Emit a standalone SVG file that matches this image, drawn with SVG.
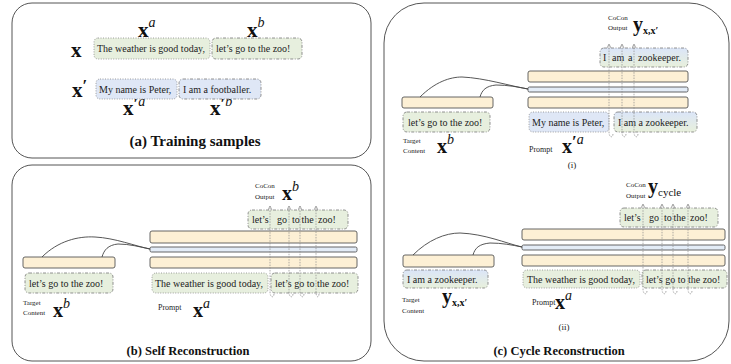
<svg xmlns="http://www.w3.org/2000/svg" width="731" height="364" viewBox="0 0 731 364">
<style>
.panel{fill:#fff;stroke:#555;stroke-width:1}
.t{font-family:"Liberation Serif","Times New Roman",serif;font-size:10px;fill:#222}
.s{font-family:"Liberation Serif","Times New Roman",serif;font-size:7px;fill:#222}
.m{font-family:"Liberation Serif","Times New Roman",serif;font-size:21px;font-weight:bold;fill:#111}
.sup{font-size:14px;font-style:italic;font-weight:normal}
.pr{font-size:17px;font-weight:bold}
.sub{font-size:10px;font-weight:bold}
.subr{font-size:11px;font-weight:normal}
.title{font-family:"Liberation Serif","Times New Roman",serif;font-size:12.5px;font-weight:bold;fill:#111;text-anchor:middle}
.g{fill:#e7efde}
.b{fill:#dfe7f6}
.gr{fill:url(#bg)}
.dot{stroke:#888;stroke-width:0.8;stroke-dasharray:1 1.5}
.dd{stroke:#777;stroke-width:0.8;stroke-dasharray:3 1.5 1 1.5}
.bar{fill:#fdf0d5;stroke:#555;stroke-width:0.9}
.thin{fill:#e3ecf7;stroke:#555;stroke-width:0.9}
.curve{fill:none;stroke:#444;stroke-width:0.9}
.col{fill:none;stroke:#8a8a8a;stroke-width:0.7;stroke-dasharray:1.5 1.2}
</style>
<defs>
<linearGradient id="bg" x1="0" y1="0" x2="0" y2="1">
<stop offset="0" stop-color="#dbe5f8"/>
<stop offset="1" stop-color="#e8f0dc"/>
</linearGradient>
<marker id="ah" markerWidth="5" markerHeight="5" refX="4" refY="2" orient="auto" markerUnits="userSpaceOnUse">
<path d="M0,0 L4,2 L0,4" fill="none" stroke="#888" stroke-width="0.7"/>
</marker>
</defs>

<!-- Panel (a) -->
<g id="panel-a">
<rect class="panel" x="12" y="3" width="359" height="155" rx="20"/>
<text class="m" x="138" y="37">x<tspan class="sup" dy="-10">a</tspan></text>
<text class="m" x="247" y="37">x<tspan class="sup" dy="-10">b</tspan></text>
<text class="m" x="71" y="57">x</text>
<text class="m" x="72" y="97">x<tspan class="pr" dy="-6">′</tspan></text>
<text class="m" x="123" y="115">x<tspan class="pr" dy="-6">′</tspan><tspan class="sup" dy="-3">a</tspan></text>
<text class="m" x="210" y="115">x<tspan class="pr" dy="-6">′</tspan><tspan class="sup" dy="-3">b</tspan></text>
<text class="title" x="195" y="146" style="font-size:15px">(a) Training samples</text>
</g>
<g id="a-x-a">
<rect class="g dot" x="94" y="38" width="116" height="21" rx="4"/>
<text class="t" x="97" y="52">The weather is good today,</text>
</g>
<g id="a-x-b">
<rect class="g dd" x="212" y="38" width="90" height="21" rx="4"/>
<text class="t" x="216" y="52">let’s go to the zoo!</text>
</g>
<g id="a-xp-a">
<rect class="b dot" x="96" y="79" width="81" height="20" rx="4"/>
<text class="t" x="99" y="93">My name is Peter,</text>
</g>
<g id="a-xp-b">
<rect class="b dd" x="179" y="79" width="82" height="20" rx="4"/>
<text class="t" x="183" y="93">I am a footballer.</text>
</g>

<!-- Panel (b) -->
<g id="panel-b">
<rect class="panel" x="12" y="165" width="359" height="196" rx="20"/>
<text class="title" x="188" y="355">(b) Self Reconstruction</text>
</g>
<g id="b-output">
<text class="s" x="255" y="188">CoCon</text>
<text class="s" x="255" y="199">Output</text>
<text class="m" x="282" y="200" style="font-size:20px">x<tspan class="sup" dy="-9">b</tspan></text>
<rect class="g dd" x="248" y="210" width="100" height="19" rx="4"/>
<text class="t" x="252" y="223">let’s</text>
<text class="t" x="277" y="223">go</text>
<text class="t" x="292" y="223">to</text>
<text class="t" x="301.5" y="223">the</text>
<text class="t" x="318" y="223">zoo!</text>
</g>
<g id="b-model">
<rect class="bar" x="150" y="231" width="207" height="12" rx="2"/>
<rect class="thin" x="150" y="247" width="207" height="5" rx="1.5"/>
<rect class="bar" x="150" y="257" width="207" height="11" rx="2"/>
</g>
<g id="b-encoder">
<rect class="bar" x="23" y="257" width="92" height="11" rx="2"/>
</g>
<g id="b-target">
<rect class="g dd" x="25" y="273" width="88" height="20" rx="4"/>
<text class="t" x="29" y="287">let’s go to the zoo!</text>
<text class="s" x="23" y="305">Target</text>
<text class="s" x="23" y="315">Content</text>
<text class="m" x="53" y="317" style="font-size:20px">x<tspan class="sup" dy="-9">b</tspan></text>
</g>
<g id="b-prompt">
<rect class="g dot" x="152" y="273" width="116" height="20" rx="4"/>
<text class="t" x="155" y="287">The weather is good today,</text>
<text class="s" x="158" y="310" style="font-size:8px">Prompt</text>
<text class="m" x="193" y="317" style="font-size:20px">x<tspan class="sup" dy="-9">a</tspan></text>
</g>
<g id="b-input">
<rect class="g dd" x="271" y="273" width="87" height="20" rx="4"/>
<text class="t" x="275" y="287">let’s go to the zoo!</text>
</g>

<!-- Panel (c) -->
<g id="panel-c">
<rect class="panel" x="384" y="3" width="345" height="358" rx="40"/>
<text class="title" x="559" y="355">(c) Cycle Reconstruction</text>
</g>
<g id="c1-output">
<text class="s" x="608" y="20">CoCon</text>
<text class="s" x="608" y="30">Output</text>
<text class="m" x="633" y="31" style="font-size:20px">y<tspan class="sub" dy="3">x,x′</tspan></text>
<rect class="gr dd" x="600" y="48" width="88" height="19" rx="4"/>
<text class="t" x="603" y="61">I</text>
<text class="t" x="612" y="61">am</text>
<text class="t" x="628" y="61">a</text>
<text class="t" x="638" y="61">zookeeper.</text>
</g>
<g id="c1-model">
<rect class="bar" x="528" y="71" width="160" height="11" rx="2"/>
<rect class="thin" x="528" y="87" width="160" height="5" rx="1.5"/>
<rect class="bar" x="528" y="97" width="160" height="11" rx="2"/>
</g>
<g id="c1-encoder">
<rect class="bar" x="402" y="97" width="91" height="11" rx="2"/>
</g>
<g id="c1-target">
<rect class="g dd" x="403" y="112" width="87" height="20" rx="4"/>
<text class="t" x="408" y="126">let’s go to the zoo!</text>
<text class="s" x="403" y="143">Target</text>
<text class="s" x="403" y="153">Content</text>
<text class="m" x="437" y="153" style="font-size:20px">x<tspan class="sup" dy="-9">b</tspan></text>
</g>
<g id="c1-prompt">
<rect class="b dot" x="529" y="112" width="80" height="20" rx="4"/>
<text class="t" x="532" y="126">My name is Peter,</text>
<text class="s" x="529" y="152" style="font-size:8px">Prompt</text>
<text class="m" x="562" y="153" style="font-size:20px">x<tspan class="pr" dy="-6">′</tspan><tspan class="sup" dy="-3">a</tspan></text>
</g>
<g id="c1-input">
<rect class="gr dd" x="614" y="112" width="83" height="20" rx="4"/>
<text class="t" x="618" y="126">I am a zookeeper.</text>
<text class="t" x="572" y="168" text-anchor="middle" style="font-size:9px">(i)</text>
</g>

<g id="c2-output">
<text class="s" x="626" y="187">CoCon</text>
<text class="s" x="626" y="198">Output</text>
<text class="m" x="648" y="193" style="font-size:20px">y<tspan class="subr" dy="3">cycle</tspan></text>
<rect class="g dd" x="620" y="208" width="98" height="19" rx="4"/>
<text class="t" x="624" y="221">let’s</text>
<text class="t" x="649" y="221">go</text>
<text class="t" x="664" y="221">to</text>
<text class="t" x="673.5" y="221">the</text>
<text class="t" x="690" y="221">zoo!</text>
</g>
<g id="c2-model">
<rect class="bar" x="522" y="229" width="203" height="11" rx="2"/>
<rect class="thin" x="522" y="245" width="203" height="5" rx="1.5"/>
<rect class="bar" x="522" y="255" width="203" height="11" rx="2"/>
</g>
<g id="c2-encoder">
<rect class="bar" x="403" y="255" width="91" height="12" rx="2"/>
</g>
<g id="c2-target">
<rect class="gr dd" x="403" y="270" width="85" height="18" rx="4"/>
<text class="t" x="407" y="283">I am a zookeeper.</text>
<text class="s" x="402" y="302">Target</text>
<text class="s" x="402" y="313">Content</text>
<text class="m" x="442" y="303" style="font-size:20px">y<tspan class="sub" dy="3">x,x′</tspan></text>
</g>
<g id="c2-prompt">
<rect class="g dot" x="523" y="270" width="117" height="18" rx="4"/>
<text class="t" x="527" y="283">The weather is good today,</text>
<text class="s" x="532" y="305" style="font-size:8px">Prompt</text>
<text class="m" x="555" y="309" style="font-size:20px">x<tspan class="sup" dy="-9">a</tspan></text>
</g>
<g id="c2-input">
<rect class="g dd" x="642" y="270" width="85" height="18" rx="4"/>
<text class="t" x="646" y="283">let’s go to the zoo!</text>
<text class="t" x="564" y="330" text-anchor="middle" style="font-size:9px">(ii)</text>
</g>

<!-- Connectors -->
<g id="connectors">
<path class="curve" d="M42,257 C58,241 78,236 95,237 C115,238 135,246 150,249"/>
<path class="curve" d="M102,257 C104,250 108,245 118,244 C130,244 140,247 150,249"/>
<path class="curve" d="M420,97 C435,82 450,77 462,77 C485,78 510,86 528,89"/>
<path class="curve" d="M480,97 C482,90 486,86 496,85 C508,85 518,87 528,89"/>
<path class="curve" d="M413,255 C428,240 445,233 460,233 C485,234 505,243 522,247"/>
<path class="curve" d="M473,255 C475,248 479,244 490,243 C502,243 512,245 522,247"/>

<path class="col" d="M274,294 C274,298 270,298 270,292 L270,206" marker-end="url(#ah)"/>
<path class="col" d="M293,294 C293,298 289,298 289,292 L289,206" marker-end="url(#ah)"/>
<path class="col" d="M304,294 C304,298 300,298 300,292 L300,206" marker-end="url(#ah)"/>
<path class="col" d="M319,294 C319,298 316,298 316,292 L316,206" marker-end="url(#ah)"/>

<path class="col" d="M613,134 C613,138 609,138 609,132 L609,44" marker-end="url(#ah)"/>
<path class="col" d="M626,134 C626,138 622,138 622,132 L622,44" marker-end="url(#ah)"/>
<path class="col" d="M638,134 C638,138 634,138 634,132 L634,44" marker-end="url(#ah)"/>

<path class="col" d="M647,291 C647,295 643,295 643,289 L643,204" marker-end="url(#ah)"/>
<path class="col" d="M666,291 C666,295 662,295 662,289 L662,204" marker-end="url(#ah)"/>
<path class="col" d="M677,291 C677,295 673,295 673,289 L673,204" marker-end="url(#ah)"/>
<path class="col" d="M692,291 C692,295 688,295 688,289 L688,204" marker-end="url(#ah)"/>
</g>
</svg>
